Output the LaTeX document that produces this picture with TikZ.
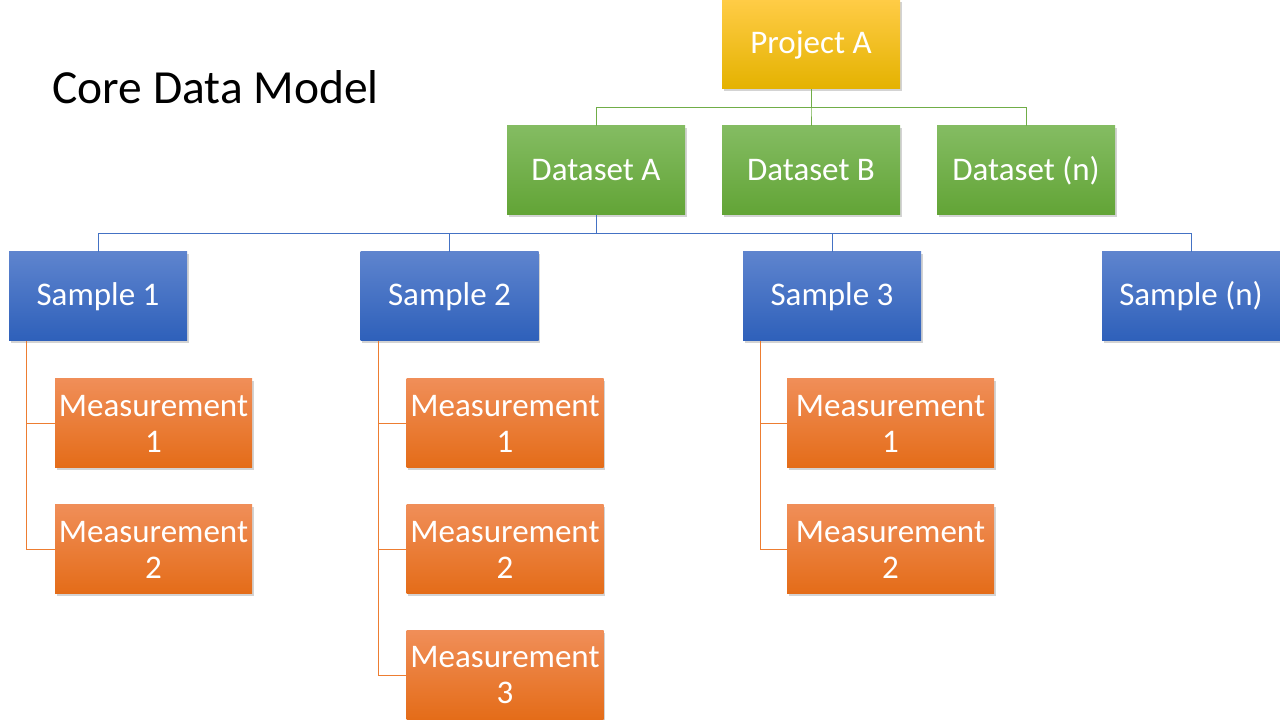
\documentclass[tikz,border=0pt]{standalone}
\usepackage{fontspec}
\setmainfont{Carlito}
\usepackage{tikz}
\usetikzlibrary{positioning}
\usetikzlibrary{shadows}
\usetikzlibrary{calc}

\definecolor{projtop}{RGB}{255,204,70}
\definecolor{projbot}{RGB}{228,178,0}
\definecolor{datatop}{RGB}{132,188,98}
\definecolor{databot}{RGB}{98,164,54}
\definecolor{samptop}{RGB}{94,132,206}
\definecolor{sampbot}{RGB}{46,96,186}
\definecolor{meastop}{RGB}{240,142,88}
\definecolor{measbot}{RGB}{228,108,24}
\definecolor{greenline}{RGB}{112,173,71}
\definecolor{blueline}{RGB}{68,114,196}
\definecolor{orangeline}{RGB}{237,125,49}

\tikzset{
  every box/.style={rectangle, minimum width=178pt, minimum height=89pt,
    inner sep=0pt, text=white, align=center,
    drop shadow={shadow xshift=1.5pt, shadow yshift=-2pt, opacity=0.35}},
  project box/.style={top color=projtop, bottom color=projbot},
  dataset box/.style={top color=datatop, bottom color=databot},
  sample box/.style={top color=samptop, bottom color=sampbot},
  measurement box/.style={top color=meastop, bottom color=measbot,
    minimum width=197pt},
  green link/.style={draw=greenline, line width=1pt},
  blue link/.style={draw=blueline, line width=1pt},
  orange link/.style={draw=orangeline, line width=1pt}
}

\begin{document}
\begin{tikzpicture}[x=1pt, y=1pt, font=\fontsize{33}{36}\selectfont]

\useasboundingbox (0,0) rectangle (1280,720);

\node [anchor=base west, font=\fontsize{47.5}{50}\selectfont] (title) at (49,616) {Core Data Model};

\node [every box/.try, project box/.try] (project-A) at (811,675.5) {Project A};

\foreach \m/\l [count=\x from 0] in {A/Dataset A,B/Dataset B,n/Dataset (n)}
  \node [every box/.try, dataset box/.try] (dataset-\m) at (596+\x*215,549.5) {\l};

\foreach \m/\l/\x in {1/1/98,2/2/449.5,3/3/832,n/(n)/1191}
  \node [every box/.try, sample box/.try] (sample-\m) at (\x,423.5) {Sample \l};

\foreach \s/\k/\x/\w in {1/2/153.5/197,2/3/505/197,3/2/890.5/207}
  \foreach \j in {1,...,\k}
    \node [every box/.try, measurement box/.try, minimum width=\w pt] (measurement-\s-\j)
      at (\x,296.5-\j*126+126) {Measurement\\\j};

\foreach \m in {A,B,n}
  \draw [green link] (project-A.south) -- ++(0,-18.5) -| (dataset-\m.north);

\foreach \m in {1,2,3,n}
  \draw [blue link] (dataset-A.south) -- ++(0,-18.5) -| (sample-\m.north);

\foreach \s/\k in {1/2,2/3,3/2}
  \foreach \j in {1,...,\k}
    \draw [orange link] ([xshift=18pt]sample-\s.south west) |- (measurement-\s-\j.west);

\end{tikzpicture}
\end{document}
